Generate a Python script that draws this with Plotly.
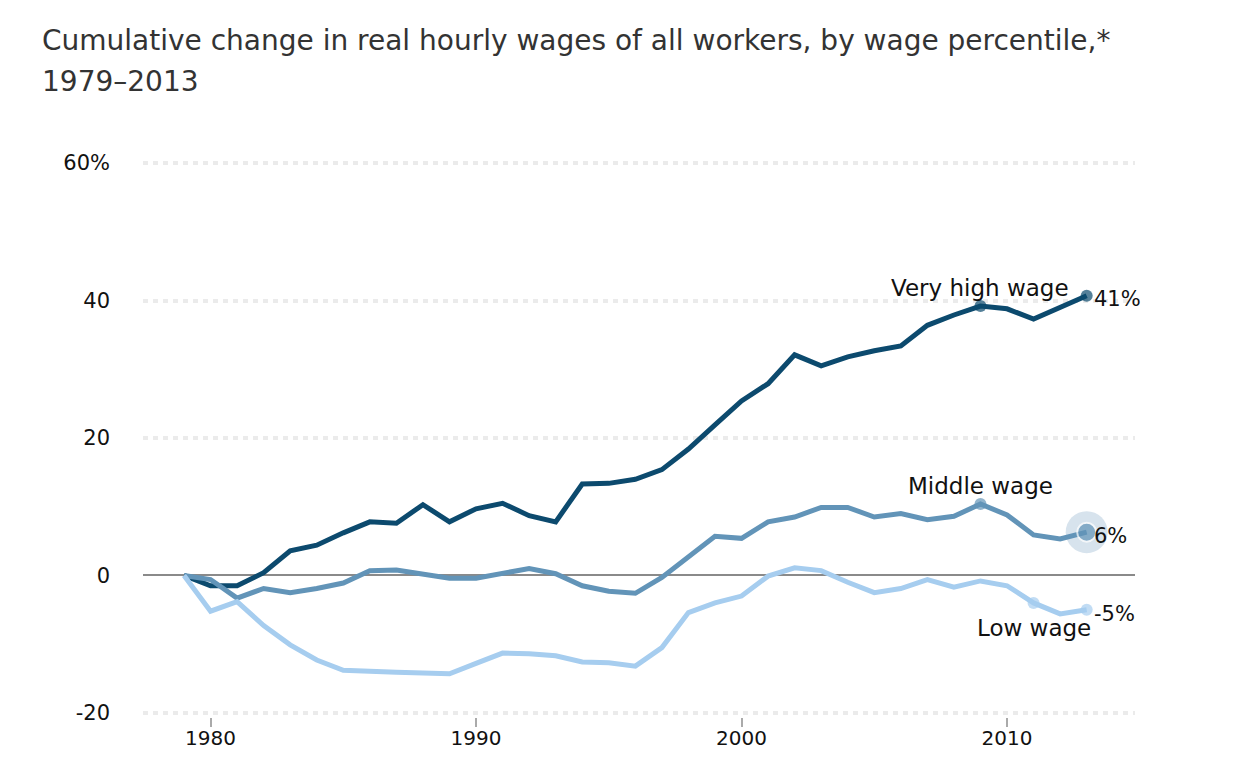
import plotly.graph_objects as go

years = list(range(1979, 2014))

very_high = [0.0, -1.5, -1.5, 0.4, 3.6, 4.4, 6.2, 7.8, 7.6, 10.3, 7.8, 9.7, 10.5, 8.7, 7.8,
             13.3, 13.4, 14.0, 15.4, 18.4, 21.9, 25.4, 27.9, 32.1, 30.5, 31.8, 32.7, 33.4,
             36.4, 37.9, 39.2, 38.8, 37.3, 39.0, 40.7]
middle = [0.0, -0.6, -3.3, -1.9, -2.5, -1.9, -1.1, 0.7, 0.8, 0.15, -0.4, -0.4, 0.25, 1.0, 0.25,
          -1.5, -2.3, -2.6, -0.3, 2.6, 5.7, 5.4, 7.8, 8.5, 9.9, 9.9, 8.5, 9.0,
          8.1, 8.6, 10.4, 8.8, 5.9, 5.3, 6.3]
low = [0.0, -5.2, -3.8, -7.3, -10.1, -12.3, -13.8, -14.0, -14.1, -14.2, -14.3, -12.8, -11.3, -11.4, -11.7,
       -12.6, -12.7, -13.2, -10.5, -5.4, -4.0, -3.0, -0.1, 1.1, 0.7, -1.0, -2.5, -1.9,
       -0.6, -1.7, -0.8, -1.5, -4.0, -5.6, -5.0]

series_names = ["Very high wage", "Middle wage", "Low wage"]
end_labels = ["41%", "6%", "-5%"]
label_years = [2009, 2009, 2011]

x_tickvals = [1980, 1990, 2000, 2010]
y_tickvals = [-20, 0, 20, 40, 60]
y_ticktext = ["-20", "0", "20", "40", "60%"]

title_line1 = "Cumulative change in real hourly wages of all workers, by wage percentile,*"
title_line2 = "1979\u20132013"

colors = ["#0c4a6e", "#6294b8", "#a6cdef"]
FONT = "DejaVu Sans"

fig = go.Figure()

all_series = [very_high, middle, low]

# halo behind middle-wage end point
fig.add_trace(go.Scatter(x=[years[-1]], y=[middle[-1]], mode="markers",
                         marker=dict(size=42, color="#d7e3ed"), hoverinfo="skip",
                         showlegend=False))

for name, vals, col in zip(series_names, all_series, colors):
    fig.add_trace(go.Scatter(x=years, y=vals, mode="lines", name=name,
                             line=dict(color=col, width=5), showlegend=False))

# highlight dots
for name, vals, col, ly in zip(series_names, all_series, colors, label_years):
    idx = [years.index(ly), len(years) - 1]
    sizes = [12, 12]
    lines = [0, 0]
    if name == "Middle wage":
        sizes = [12, 19]
        lines = [0, 2]
    fig.add_trace(go.Scatter(x=[years[i] for i in idx], y=[vals[i] for i in idx],
                             mode="markers",
                             marker=dict(size=sizes, color=col,
                                         line=dict(color="white", width=lines)),
                             showlegend=False, hoverinfo="skip"))

annotations = []
LBL = dict(family=FONT, size=23, color="#111")
END = dict(family=FONT, size=21, color="#111")
# series name labels
for name, vals, ly in zip(series_names, all_series, label_years):
    v = vals[years.index(ly)]
    if name == "Low wage":
        annotations.append(dict(x=ly, y=v, xref="x", yref="y", text=name, showarrow=False,
                                xanchor="center", yanchor="top", yshift=-10, font=LBL))
    else:
        annotations.append(dict(x=ly, y=v, xref="x", yref="y", text=name, showarrow=False,
                                xanchor="center", yanchor="bottom", yshift=3, font=LBL))
# end value labels
for lab, vals in zip(end_labels, all_series):
    annotations.append(dict(x=years[-1], y=vals[-1], xref="x", yref="y", text=lab,
                            showarrow=False, xanchor="left", yanchor="middle",
                            xshift=5, yshift=-4 if lab != "41%" else -3, font=END))

# title lines (paper coords relative to plot area)
plot_w, plot_h = 992, 558
title_left_px = 40 - 143
annotations.append(dict(x=title_left_px / plot_w, y=1 + (159 - 22) / plot_h,
                        xref="paper", yref="paper", text=title_line1, showarrow=False,
                        xanchor="left", yanchor="top",
                        font=dict(family=FONT, size=28, color="#333")))
annotations.append(dict(x=title_left_px / plot_w, y=1 + (159 - 63) / plot_h,
                        xref="paper", yref="paper", text=title_line2, showarrow=False,
                        xanchor="left", yanchor="top",
                        font=dict(family=FONT, size=28, color="#333")))

# page body has an 8px margin, so the plot box is placed 8px up/left
fig.update_layout(
    width=1244, height=768,
    margin=dict(l=135, r=1244 - 135 - 992, t=151, b=768 - 151 - 558),
    plot_bgcolor="white", paper_bgcolor="white",
    annotations=annotations,
    font=dict(family=FONT, color="#111"),
)
fig.update_xaxes(range=[1977.456, 2014.82], tickvals=x_tickvals, showgrid=False,
                 ticks="outside", ticklen=9, tickwidth=1.5, tickcolor="#aaaaaa",
                 tickfont=dict(family=FONT, size=20, color="#111"), showline=False,
                 zeroline=False, ticklabelstandoff=-6)
fig.update_yaxes(range=[-20.6, 60.6], tickvals=y_tickvals, ticktext=y_ticktext,
                 showgrid=True, gridcolor="#ebebeb", gridwidth=4, griddash="5px,5px",
                 zeroline=True, zerolinecolor="#8a8a8a", zerolinewidth=1.5,
                 tickfont=dict(family=FONT, size=21, color="#111"), ticks="",
                 ticklabelstandoff=32, showline=False)

fig.write_html("out.html")
